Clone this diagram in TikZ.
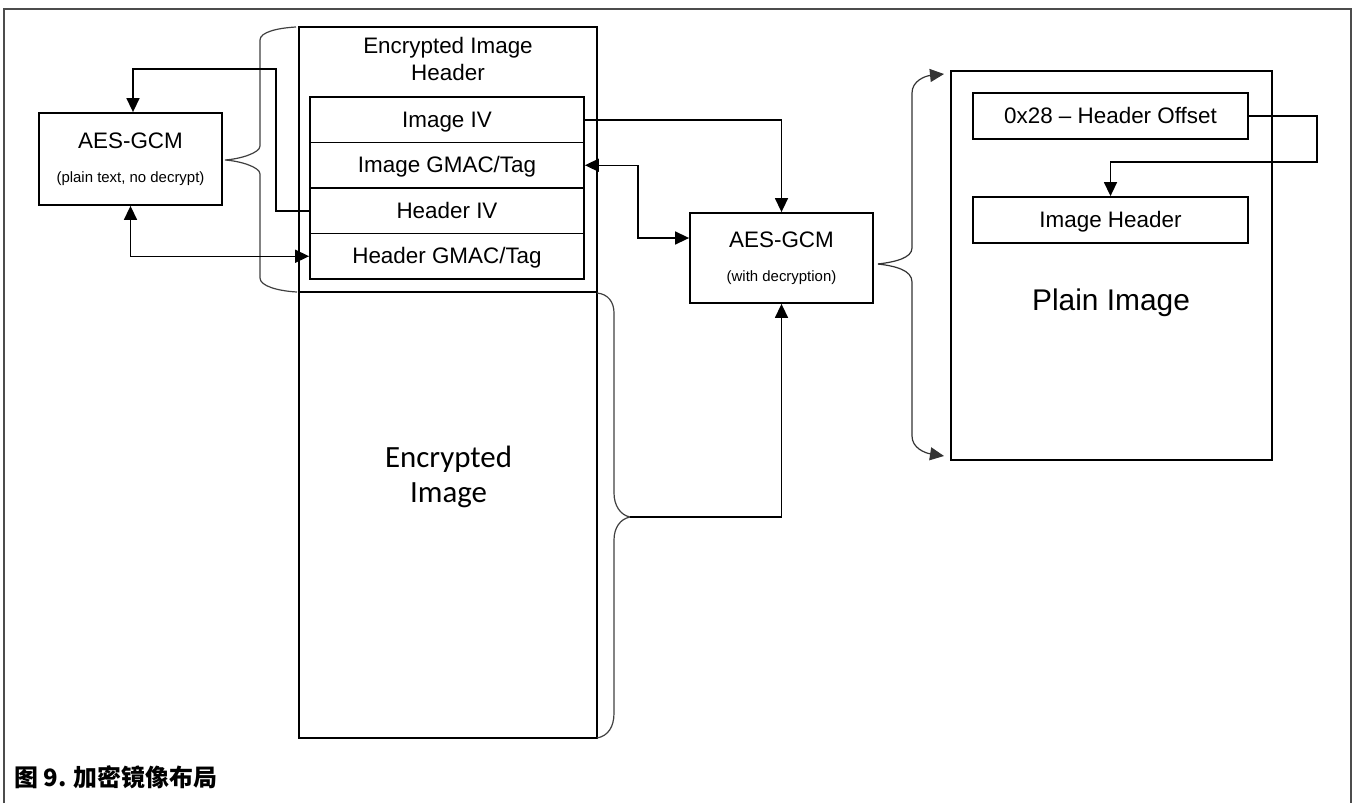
\documentclass[tikz,border=0pt]{standalone}
\usepackage{fontspec}
\setmainfont{Liberation Sans}
\newfontfamily\calib{Carlito}
\newfontfamily\cjk{Noto Sans CJK SC}
\usetikzlibrary{arrows.meta,calc}

\begin{document}
\begin{tikzpicture}[x=1bp,y=-1bp,
  box/.style={draw=black, line width=1.8bp, inner sep=0pt},
  rowbox/.style={box, minimum width=274bp, minimum height=45.5bp,
    font=\fontsize{22.5}{27}\selectfont, text height=16bp, text depth=1bp},
  wide/.style={box, minimum width=275bp, minimum height=46bp,
    font=\fontsize{22.5}{27}\selectfont, text height=16bp, text depth=2bp},
  label/.style={inner sep=0pt, font=\fontsize{22.5}{27}\selectfont, anchor=base},
  note/.style={inner sep=0pt, font=\fontsize{15}{18}\selectfont, anchor=base},
  tip/.style={-{Triangle[length=14bp,width=13bp]}},
  both/.style={{Triangle[length=14bp,width=13bp]}-{Triangle[length=14bp,width=13bp]}},
  conn/.style={draw=black, line width=1.5bp},
  brace/.style={draw=black!75, line width=1.2bp},
  frame/.style={draw=black!70, line width=2.5bp}]

\useasboundingbox (0,0) rectangle (1354,803);

% outer frame, open at the bottom
\draw[frame] (4,803) -- (4,9) -- (1351,9) -- (1351,803);

% ---- left: AES-GCM without decryption
\node[box, minimum width=183bp, minimum height=92bp] (aesL) at (130.5,159) {};
\node[label] (aesLt) at (130.5,148) {AES-GCM};
\node[note] (aesLs) at (130.5,182) {(plain text, no decrypt)};

% ---- encrypted image header and body
\node[box, minimum width=298bp, minimum height=265bp] (hdr) at (448,159.5) {};
\node[label, align=center] (hdrt) at (448,80) {Encrypted Image\\Header};
\node[box, minimum width=298bp, minimum height=446bp] (img) at (448,515) {};
\node[inner sep=0pt, anchor=base, align=center,
      font=\calib\fontsize{31}{35}\selectfont] (imgt) at (448.5,502) {Encrypted\\Image};

\node[rowbox] (r1) at (447,119.75) {Image IV};
\node[rowbox] (r2) at (447,165.25) {Image GMAC/Tag};
\node[rowbox] (r3) at (447,210.75) {Header IV};
\node[rowbox] (r4) at (447,256.25) {Header GMAC/Tag};

% ---- middle: AES-GCM with decryption
\node[box, minimum width=183bp, minimum height=90bp] (aesM) at (781.5,258) {};
\node[label] (aesMt) at (781.5,247) {AES-GCM};
\node[note] (aesMs) at (781.5,281) {(with decryption)};

% ---- right: plain image
\node[box, minimum width=321bp, minimum height=389bp] (plain) at (1111.5,265.5) {};
\node[wide] (offs) at (1110.5,116) {0x28 -- Header Offset};
\node[wide] (ihdr) at (1110.5,220) {Image Header};
\node[inner sep=0pt, anchor=base, font=\fontsize{30}{36}\selectfont] (plaint) at (1111,310) {Plain Image};

% ---- braces
\coordinate (bL) at (225,160);
\coordinate (bI) at (630,517);
\coordinate (bR) at (878,264);

\draw[brace] (296,27) .. controls (278,28) and (260,32) .. (260,40) -- (260,146)
  .. controls (260,153) and (240,159) .. (bL)
  .. controls (240,161) and (260,167) .. (260,174) -- (260,278)
  .. controls (260,286) and (278,291) .. (297,292);

\draw[brace] (597,293) .. controls (608,294) and (614,302) .. (614,313) -- (614,493)
  .. controls (614,505) and (620,515) .. (bI)
  .. controls (620,519) and (614,528) .. (614,540) -- (614,713)
  .. controls (614,727) and (608,736) .. (597,738);

\draw[brace, draw=black!80, tip] (bR) .. controls (895,262) and (912,258) .. (912,248) -- (912,93)
  .. controls (912,81) and (925,76) .. (944,74);
\draw[brace, draw=black!80, tip] (bR) .. controls (895,266) and (912,270) .. (912,282) -- (912,436)
  .. controls (912,448) and (925,453) .. (944,456);

% ---- connectors
\coordinate (hv) at (276,69);
\coordinate (gk) at (638,238);
\coordinate (ob) at (1317,162);

\draw[conn, tip] (r1.east) -| (aesM.north);
\draw[conn, both] (r2.east) -| (gk) -- (gk -| aesM.west);
\draw[conn, tip] (r3.west) -| (hv) -| ([xshift=2.5bp]aesL.north);
\draw[conn, both] (aesL.south) |- (r4.west);
\draw[conn, tip] (bI) -| (aesM.south);
\draw[conn, tip] (offs.east) -| (ob) -| (ihdr.north);

% ---- caption
\node[inner sep=0pt, anchor=west, font=\cjk\bfseries\fontsize{24}{28}\selectfont] (cap) at (14,777) {图 9. 加密镜像布局};

\end{tikzpicture}
\end{document}
